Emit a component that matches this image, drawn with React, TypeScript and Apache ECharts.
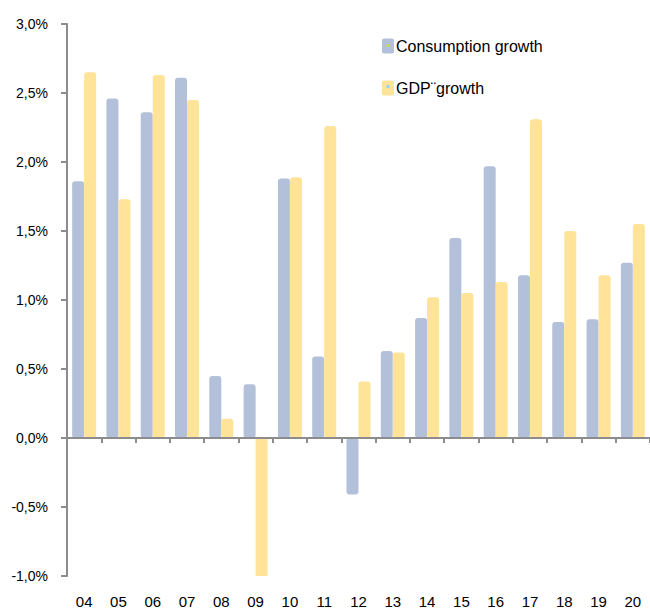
import React, { useEffect, useRef } from "react";
import * as echarts from "echarts";

const years = ["04", "05", "06", "07", "08", "09", "10", "11", "12", "13", "14", "15", "16", "17", "18", "19", "20"];
const consumptionGrowth = [1.86, 2.46, 2.36, 2.61, 0.45, 0.39, 1.88, 0.59, -0.41, 0.63, 0.87, 1.45, 1.97, 1.18, 0.84, 0.86, 1.27];
const gdpGrowth = [2.65, 1.73, 2.63, 2.45, 0.14, -1.06, 1.89, 2.26, 0.41, 0.62, 1.02, 1.05, 1.13, 2.31, 1.5, 1.18, 1.55];
const seriesNames = ["Consumption growth", "GDP¨growth"];

const FONT = "Liberation Sans, Arial, sans-serif";
const BLUE = "#B3C0D9";
const YELLOW = "#FFE398";
const AXIS = "#8c8c8c";
const ICON = "path://M2,0h8a2,2 0 0 1 2,2v11a2,2 0 0 1 -2,2h-8a2,2 0 0 1 -2,-2v-11a2,2 0 0 1 2,-2z";
const Y_MIN = -1;

// bars running past the axis minimum are clipped flat
const toItems = (arr: number[]) =>
  arr.map((v) => (v < Y_MIN ? { value: v, itemStyle: { borderRadius: 0 } } : v));

export default function App() {
  const ref = useRef<HTMLDivElement>(null);
  useEffect(() => {
    if (!ref.current) return;
    const chart = echarts.init(ref.current, undefined, { renderer: "svg" });
    chart.setOption({
      animation: false,
      backgroundColor: "#ffffff",
      textStyle: { fontFamily: FONT },
      grid: { left: 67, top: 24, width: 587, height: 552 },
      legend: {
        orient: "vertical",
        left: 382,
        top: 38,
        padding: 0,
        itemWidth: 12,
        itemHeight: 15,
        itemGap: 26,
        icon: ICON,
        data: seriesNames,
        textStyle: { fontSize: 16, color: "#000", fontFamily: FONT, padding: [0, 0, 0, -3] },
      },
      xAxis: [
        {
          type: "category",
          data: years,
          position: "bottom",
          axisLine: { show: false, onZero: false },
          axisTick: { show: false },
          axisLabel: { color: "#000", fontSize: 15, margin: 18, fontFamily: FONT },
        },
        {
          type: "category",
          data: years,
          position: "bottom",
          z: 10,
          axisLine: { show: true, onZero: true, lineStyle: { color: AXIS, width: 2 } },
          axisTick: { show: true, length: 5, lineStyle: { color: AXIS, width: 2 } },
          axisLabel: { show: false },
        },
      ],
      yAxis: {
        type: "value",
        min: Y_MIN,
        max: 3,
        interval: 0.5,
        axisLine: { show: true, lineStyle: { color: AXIS, width: 2 } },
        axisTick: { show: true, length: 6, lineStyle: { color: AXIS, width: 2 } },
        splitLine: { show: false },
        axisLabel: {
          color: "#000",
          fontSize: 14,
          margin: 19,
          fontFamily: FONT,
          formatter: (v: number) => v.toFixed(1).replace(".", ",") + "%",
        },
      },
      series: [
        {
          name: seriesNames[0],
          type: "bar",
          xAxisIndex: 0,
          data: toItems(consumptionGrowth),
          barWidth: 12,
          barGap: "0%",
          itemStyle: { color: BLUE, borderRadius: 3 },
        },
        {
          name: seriesNames[1],
          type: "bar",
          xAxisIndex: 0,
          data: toItems(gdpGrowth),
          barWidth: 12,
          barGap: "0%",
          itemStyle: { color: YELLOW, borderRadius: 3 },
        },
      ],
      graphic: [
        { type: "rect", left: 386.5, top: 44, shape: { width: 3, height: 3 }, style: { fill: "#c9d65c" }, z: 100 },
        { type: "rect", left: 386.5, top: 85, shape: { width: 3, height: 3 }, style: { fill: "#93d3f3" }, z: 100 },
      ],
    });
    return () => chart.dispose();
  }, []);
  return <div ref={ref} style={{ position: "absolute", left: 0, top: 0, width: 650, height: 609 }} />;
}
